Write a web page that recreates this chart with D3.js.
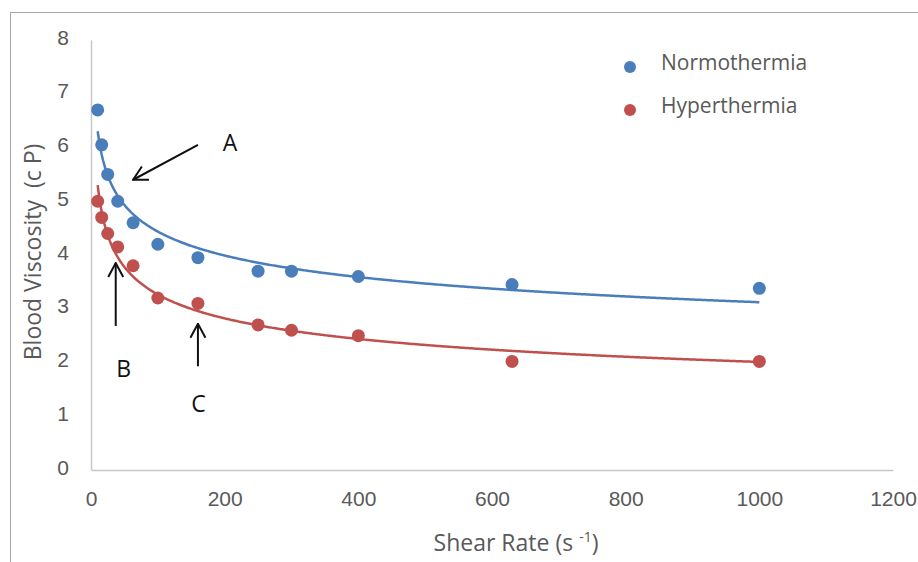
<!DOCTYPE html>
<html>
<head>
<meta charset="utf-8">
<script src="https://cdn.jsdelivr.net/npm/d3@7"></script>
<style>
  body { margin: 0; background: #fff; }
  svg { display: block; font-family: "Open Sans", Lato, sans-serif; }
  .tick text { fill: #595959; font-size: 21px; }
</style>
</head>
<body>
<svg width="918" height="562"></svg>
<script>
// data
const shearRate = [10, 16, 25, 40, 63, 100, 160, 250, 300, 400, 630, 1000];
const normoViscosity = [6.7, 6.05, 5.5, 5.0, 4.6, 4.2, 3.95, 3.7, 3.7, 3.6, 3.45, 3.38];
const hyperViscosity = [5.0, 4.7, 4.4, 4.15, 3.8, 3.2, 3.1, 2.7, 2.6, 2.5, 2.02, 2.02];
const seriesNames = ["Normothermia", "Hyperthermia"];
const seriesColors = ["#4a7ebb", "#c0504d"];
const xTicks = [0, 200, 400, 600, 800, 1000, 1200];
const yTicks = [0, 1, 2, 3, 4, 5, 6, 7, 8];

// arrows in data units: [label, tailX, tailY, tipX, tipY, labelX, labelY]
const notes = [
  ["A", 160, 6.05, 63, 5.4, 208, 6.08],
  ["B", 37, 2.68, 37, 3.85, 49, 1.88],
  ["C", 160, 1.93, 160, 2.72, 161, 1.23]
];

const svg = d3.select("svg");
const margin = { left: 91, right: 25, top: 40, bottom: 92 };
const width = 918, height = 562;

const x = d3.scaleLinear().domain([0, 1200]).range([margin.left, width - margin.right]);
const y = d3.scaleLinear().domain([0, 8]).range([height - margin.bottom, margin.top]);

// outer frame
svg.append("rect")
  .attr("x", 10.5).attr("y", 12.5)
  .attr("width", 940).attr("height", 600)
  .attr("fill", "none").attr("stroke", "#a6a6a6");

// axes
const xAxis = svg.append("g")
  .attr("transform", "translate(0," + y(0) + ")")
  .call(d3.axisBottom(x).tickValues(xTicks).tickFormat(d3.format("d")).tickSize(0).tickPadding(21));
const yAxis = svg.append("g")
  .attr("transform", "translate(" + x(0) + ",0)")
  .call(d3.axisLeft(y).tickValues(yTicks).tickSize(0).tickPadding(22));
xAxis.select(".domain").attr("stroke", "#c8c8c8").attr("stroke-width", 1.5);
yAxis.select(".domain").attr("stroke", "#c8c8c8").attr("stroke-width", 1.5);
yAxis.selectAll(".tick text").attr("dy", "0.2em");

// axis titles
const xt = svg.append("text")
  .attr("x", 516).attr("y", 551)
  .attr("text-anchor", "middle")
  .attr("fill", "#595959").attr("font-size", 23);
xt.append("tspan").text("Shear Rate (s ");
xt.append("tspan").attr("font-size", 14).attr("dy", -9).text("-1");
xt.append("tspan").attr("dy", 9).text(")");

svg.append("text")
  .attr("transform", "translate(41,252) rotate(-90)")
  .attr("text-anchor", "middle")
  .attr("fill", "#595959").attr("font-size", 23)
  .attr("xml:space", "preserve")
  .text("Blood Viscosity  (c P)");

// power trendline like Excel: fit ln(y) = ln(a) + b ln(x)
function powerFit(xs, ys) {
  const lx = xs.map(Math.log), ly = ys.map(Math.log);
  const mx = d3.mean(lx), my = d3.mean(ly);
  const b = d3.sum(lx, (v, i) => (v - mx) * (ly[i] - my)) / d3.sum(lx, v => (v - mx) * (v - mx));
  const a = Math.exp(my - b * mx);
  return v => a * Math.pow(v, b);
}

const series = [normoViscosity, hyperViscosity];
const line = d3.line().x(d => x(d[0])).y(d => y(d[1]));
const xMin = d3.min(shearRate), xMax = d3.max(shearRate);

series.forEach((vals, i) => {
  const f = powerFit(shearRate, vals);
  const pts = d3.range(xMin, xMax + 1, 2).map(v => [v, f(v)]);
  svg.append("path")
    .datum(pts)
    .attr("d", line)
    .attr("fill", "none")
    .attr("stroke", seriesColors[i])
    .attr("stroke-width", 2.5);
});

series.forEach((vals, i) => {
  svg.append("g").selectAll("circle")
    .data(vals)
    .join("circle")
    .attr("cx", (d, j) => x(shearRate[j]))
    .attr("cy", d => y(d))
    .attr("r", 6.5)
    .attr("fill", seriesColors[i]);
});

// legend
const legend = svg.append("g");
seriesNames.forEach((name, i) => {
  legend.append("circle")
    .attr("cx", 630).attr("cy", 67 + i * 43)
    .attr("r", 6).attr("fill", seriesColors[i]);
  legend.append("text")
    .attr("x", 661).attr("y", 70 + i * 43)
    .attr("fill", "#595959").attr("font-size", 21)
    .text(name);
});

// arrows
svg.append("defs").append("marker")
  .attr("id", "head")
  .attr("viewBox", "0 0 16 18")
  .attr("refX", 15).attr("refY", 9)
  .attr("markerWidth", 16).attr("markerHeight", 18)
  .attr("markerUnits", "userSpaceOnUse")
  .attr("orient", "auto")
  .append("path")
  .attr("d", "M1,1.5 L15,9 L1,16.5")
  .attr("fill", "none").attr("stroke", "#111").attr("stroke-width", 2);

notes.forEach(n => {
  svg.append("line")
    .attr("x1", x(n[1])).attr("y1", y(n[2]))
    .attr("x2", x(n[3])).attr("y2", y(n[4]))
    .attr("stroke", "#111").attr("stroke-width", 2)
    .attr("marker-end", "url(#head)");
  svg.append("text")
    .attr("x", x(n[5])).attr("y", y(n[6]))
    .attr("dy", "0.35em")
    .attr("text-anchor", "middle")
    .attr("fill", "#111").attr("font-size", 23)
    .text(n[0]);
});
</script>
</body>
</html>
